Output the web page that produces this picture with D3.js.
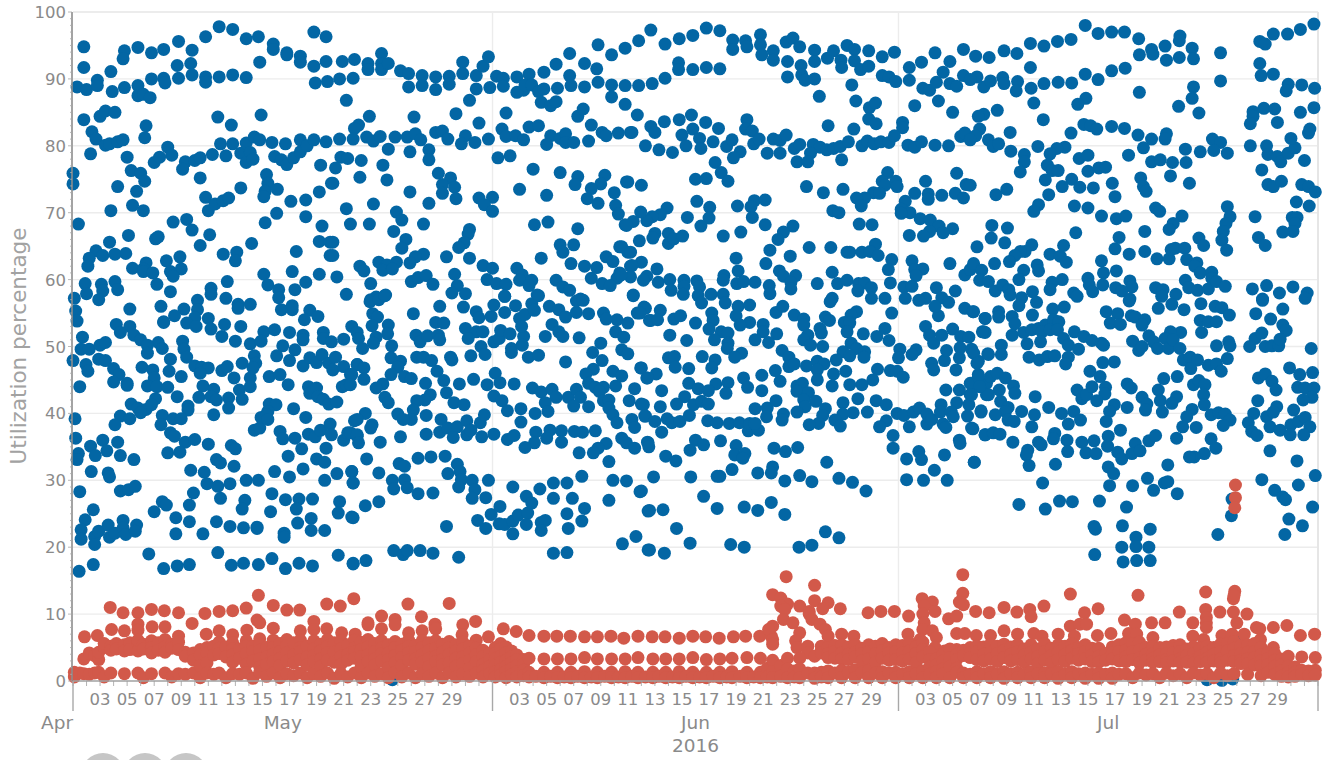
<!DOCTYPE html>
<html><head><meta charset="utf-8">
<script src="https://cdn.jsdelivr.net/npm/d3@7"></script>
<style>html,body{margin:0;padding:0;background:#fff;overflow:hidden}svg{display:block}text{font-family:"DejaVu Sans",sans-serif}</style>
</head><body><svg id="c" width="1324" height="760"></svg>
<script>
// day = days since 1 May 2016, value = utilization percentage; flat lists: day,value,day,value...
const blueMayHigh=[0.3,88.8,0.8,94.8,0.8,91.7,1,88.4,1.8,89.8,1.8,89,2.8,91.1,2.9,88.1,3.8,94.2,3.7,93,3.8,88.7,4.8,94.7,4.8,89,4.8,87.5,5.2,87.7,5.7,87.2,5.8,90,5.8,93.9,6.7,94.4,6.7,90.1,6.8,89.4,7.8,95.6,7.7,92,7.8,90.1,8.8,94.3,8.7,92.3,8.8,90.6,9.8,96.3,9.8,90.3,9.8,89.5,10.8,97.8,10.8,90.3,11.8,97.4,11.8,90.6,12.8,96,12.8,90.2,13.7,96.3,13.8,92.5,14.8,95.2,14.8,94.4,15.8,93.9,15.8,93.6,16.8,93.4,16.8,92.5,17.8,97,17.8,91.9,17.9,89.4,18.7,96.3,18.7,92.6,18.8,89.6,
0.8,83.9,1.4,82.1,1.7,81,1.3,78.8,2,84.4,2.4,85.2,3.1,85,2.4,80.1,2.7,80.3,3.3,80.6,3.7,80.9,4,78.3,4.3,76.3,5,75.9,5.3,74.7,4.7,73.2,3.3,73.9,4.4,71.1,5.2,70.3,2.8,70.3,5.4,83,5.3,81.2,7,79.8,7.3,78.6,6,77.5,6.4,78.3,8.3,77.6,8.1,76.5,9,77.8,9.4,78.2,9.4,75.2,10.3,78.7,11.3,78.5,10.9,80.3,10.7,84.3,11.7,83.1,11.8,80.3,12.4,78.9,12.8,80.4,13.1,79,12.8,77.5,13.3,78,13.4,81.3,13.8,80.9,13.9,84.6,14.7,80.5,14.9,78.4,15.4,77.9,15.8,77.2,15.7,80.3,16.3,78.2,16.8,80.9,16.8,79.1,17.3,80,17.8,80.9,18.7,80.6,18.3,77.1,
0,75.9,0,74.3,0.4,68.3,9.8,72.3,10,70.3,10.5,71.3,11.1,71.8,11.5,72.2,12.4,73.7,14.3,75.7,14.4,74.4,14.2,73.2,14.1,72.4,15.1,73.5,16.1,71.7,17.2,71.9,18.2,73.1,19.1,74.4,15.05,69.9,14.2,68.5,17.2,69.4,18.4,68,8.4,69,7.4,68.6,8.8,67.4,10.1,66.7,9.4,65.1,13.2,65.4,18.2,65.7,19,65.6,6.1,66.1,6.3,66.4,4.1,66.6,2.7,65.6,
1.7,64.3,1.2,63.2,1.1,62,2.2,63.6,3.1,63.8,3.9,63.9,4.4,61.7,5.4,62.5,5.2,61.6,5.2,61.2,5.9,61,6.9,62.8,7.9,63.4,8,61.6,7.2,61.2,7.4,60.5,11.1,63.8,12.1,64.1,12,62.8,16.5,64.2,16.2,61.2,14.1,60.8,18.2,60.8,19,63.6,11.4,59.7,14.4,59.2,17.2,59.6,0.9,59.4,1,57.9,2.1,59.3,2.2,58.3,1.9,57,3.1,59.7,3.3,58.5,6.2,59.3,7.2,58.2,10.2,58.7,10.2,57.8,15.2,58.5,15.2,57.3,16.4,58.5,0.1,57.2,0.2,55.3,0.3,53.8,4.2,55.6,6.5,56,8.2,55.6,9.2,56.9,9.2,55.5,11.3,57.2,12.2,56.3,12.2,55.7,13.1,56.3,15.4,55.5,16.2,55.5,16.2,56.1,17.5,55.4,17.1,54,18.1,54.5,7.5,54.6,6.7,53.7,9,54.3,10,54.2];
const blueMayLow=[3.2,53.3,4.2,53,0.7,51.4,3.5,52.1,4.5,51.7,5,51,6.3,50.6,5.5,50.2,8.1,50.8,10.2,52.6,11,51.5,12,50.8,13.1,50.4,14.1,52.2,13.9,50.8,14.9,52.5,16,52.1,17,51.7,17,51,18.5,52.1,18.5,51.2,19.1,50.7,20,51.1,15.5,50.1,12.4,53,11.2,53.3,6.7,53.6,8.4,53.5,9.1,53,
0.6,49.6,1.2,49.6,2,50.2,2.4,50.6,6.6,49.7,5.5,49,8.2,49.6,8.4,48.4,7.2,48.1,0,47.9,1.9,48.1,2.4,47.9,0.96,47.3,1.1,46.3,3,46.7,3.4,45.8,3,44.7,4,44.5,4,44.2,0.5,44,5.1,46.9,5.9,46.5,6,45.3,5.5,44.1,6.2,44,7,43.9,7.1,46.3,8,45.5,7.7,42.5,6.1,42.2,9,47.1,9.5,46.9,10,46.8,9.4,46,9.6,44.1,9.3,42.4,8.5,41.1,8.5,40.5,10.4,43.6,10.2,42.5,10.6,42,11.5,42.3,11.5,40.8,11,46.4,11.4,47,11.9,45.3,12.5,47.5,12.3,43.5,12.5,42.1,13.1,45.3,13.1,44,13.4,48.6,13.5,47.5,13.3,46.8,14.5,45.5,15.3,45.8,15.9,44.3,15.05,48.6,16,47.9,16.4,49.5,17,47.1,17.5,48.3,18,47.6,18.4,48.8,18.9,47.5,19.4,48.4,19.2,46.5,20,47,20.5,45.8,19.9,44,20.2,44.3,21,47.3,17.4,44,17.5,43,18,43.8,18.1,42.5,18.5,42.1,18.9,41.4,19.5,41.7,14.5,41.4,15,41.3,16.3,40.7,14.4,40.3,17.2,39.4,4.3,41.4,4.8,40.8,5.4,40.6,5.8,41.3,5,40.1,
0.15,39.2,3.5,39.6,4.2,39.2,3.1,38.3,6.6,39.7,6.5,38.3,7.4,39.2,8,39.2,10.4,39.8,7.2,37.1,7.5,36.6,8.3,35.7,9,36.1,10,35.4,0.2,36.3,2.2,36,3.3,35.7,1.3,35.1,1.65,33.7,2.5,34.4,3.5,33.7,0.4,34,0.3,33.1,4.5,33.1,7,34.1,7.9,34.2,11.7,35.2,12,34.7,10.6,33.1,10.9,32.6,11.9,32.1,13.4,37.5,13.8,37.8,13.9,39.4,14.3,39.8,14.4,39.1,15.3,37.3,15.5,36.2,16.4,36.3,17.4,36.9,17.9,36.5,18.3,37.5,19,38.4,19.1,36.8,16.9,34.7,15.9,33.6,18,33.2,18.6,32.7,18.7,34.8,20,36,20.3,37.1,21,36.6,20.8,38.9,17,31.7,14.9,31.3,16,30.5,19.5,31,20.6,31.3,18.6,30,20.7,29.6,8.7,31.5,9.7,31.2,1.35,31.3,2.6,31.1,2.7,30.5,12.8,30,13.7,30,
9.9,29.5,10.7,29.1,11.6,29.5,8.9,28.1,0.5,28.3,3.5,28.4,4.1,28.6,4.6,29.1,14.7,28,10.9,27.3,12.7,27,12.5,25.7,6.6,26.8,6.9,26.3,8.6,26.3,15.7,27.1,16.7,27.2,16.5,25.7,17.7,27.2,19.7,26.8,19.6,25.1,14.6,25.3,1.5,25.6,6,25.3,7.6,24.4,8.6,23.8,10.6,23.8,11.6,23.1,12.6,22.9,13.6,23,13.6,22.8,16.6,23.6,17.6,24.3,17.6,22.5,18.6,22.5,20.6,24.5,0.9,24.1,0.6,22.6,0.6,21.2,1.6,21.6,1.6,20.4,1.9,22.4,2.6,23.3,2.7,21.5,3.1,22.1,3.7,24,3.7,22.9,3.9,21.9,4.7,23.3,4.6,22.4,7.6,22,9.6,22,15.6,22.1,15.6,21.5,
0.45,16.4,1.5,17.4,5.6,19,6.7,16.8,7.7,17.2,8.6,17.4,10.7,19.2,11.7,17.3,12.6,17.6,13.7,17.4,14.7,18.3,15.7,16.8,16.7,17.6,17.7,17.2,19.6,18.8,20.7,17.6];
const blueLateMayHigh=[19.9,92.6,20.8,92.9,21.8,92.3,21.8,91.4,22.8,93.8,22.8,92.3,22.8,91.4,23.3,92.3,24.2,91.2,24.8,90.8,25.8,90.5,26.8,90.3,27.8,90.4,27.8,89.2,28.8,92.5,28.8,90.8,29.8,90.5,30.3,91.9,30.7,93.3,31.3,90.4,31.8,90.1,31.8,88.9,32.8,90.3,33.3,88.3,32.8,88,33.7,90.7,33.4,89.1,33.9,89.1,34.8,91,34.4,88.1,34.8,88.5,35.7,92.2,36.7,93.8,36.7,90.5,36.8,89,35.8,88.6,37.8,92.3,37.8,88.8,38.8,95.1,38.7,91.5,38.8,89.5,39.8,93.6,39.8,89.1,39.8,87.3,40.8,94.6,40.8,89,40.8,86.2,19.7,90,20.7,90.1,24.8,88.8,25.8,89,26.8,88.4,29.8,88.5,30.8,88.7,20.2,86.8,29.3,86.8,34.6,86.5,35.3,86,35.7,86.6,
21.9,84.4,25.2,84.3,28.3,84.8,32,84.9,30,83.4,21.1,83.1,20.8,82.6,37.3,84.4,37.7,85.5,38.3,83.1,19.7,81,20.7,81,21.7,81.3,22.2,80.7,22.7,81.4,23.8,81.3,24.7,81.3,25.3,81.8,25.7,80.9,26.8,82,27.3,82.2,27.7,81,29,81.5,28.7,80.3,29.7,80.5,30.7,81,31.7,82.5,32,81.4,32.7,81.5,33.3,80.9,33.7,82.8,34.4,83,35.3,81.5,35,80.2,36,81.1,36.4,81.8,36.4,80.5,37,80.5,38.1,80.7,39.1,82,39.4,81.5,40.3,81.9,41.2,82,23.3,79.5,24.9,79.1,26.3,79.4,26.3,77.9,19.8,78.3,20.3,78.1,21.3,77.8,22.9,77.1,19.4,76.7,21.2,75.3,23.2,74.9,19.2,74.4,31.4,78.2,32.3,78.5,34,76.5,36,76,37.3,75.4,39.3,75.6,39,74.3,38.3,73.6,37.1,74.2,40.9,74.6,27,75.9,27.9,75.2,27.3,74.2,27.3,72.9,28.2,73.8,28.3,72.1,24.9,73.1,26.3,71.4,30,72.2,31,72.3,30.4,71.2,31,70.2,33,73.5,35,72.6,38,72.1,38.8,71.4,40,73,40.1,71.1,40.3,69.8,22.2,71.3,20.2,70.6,23.9,70.1,24.3,68.9,20.5,68.3,21.9,68.3,25.9,68.3,23.7,67.2,34.1,68.2,35.1,68.6,37.3,67.6,40.8,68.2,
19.2,65.6,19.2,63.6,24.6,66,24.3,64.7,29.3,67.5,29.2,66.8,28.9,65.5,28.5,64.8,36,65.2,37,65.2,36.2,64.1,40.4,64.9,41,64.1,27.6,63.4,29.3,63.2,34.6,63.2,39.4,63.4,39.9,62.7,25.9,63.8,25.3,63.4,24.9,62.5,23.9,62.6,22.6,62.6,23.2,62.2,22.9,61.4,23.6,61.6,21.2,62,21.5,61.3,19.5,60.4,30.3,62.1,31,61.7,28.2,60.8,32.8,61.7,33.2,60.7,36.8,62.4,37.8,62,38.7,61.8,38.3,60.2,40.4,61,40.2,60.2,41.2,62,22,59.4,25,59.7,25.5,60.3,26.1,60.6,26.6,59.3,30.6,60,31.3,59.4,32,59.3,33,59.9,33.9,59.9,33.7,59.1,35.7,59.9,36.2,58.9,36.7,58.4,39.1,59.4,39.7,59.1,28.4,59.1,28,58,29,57.9,20.2,57.8,23.1,57.7,22.4,57.4,22,57,31.9,57.5,34.3,57.7,37.5,57.1];
const blueJuneMid=[21.95,56.7,22.6,57,23.05,57.6,27.1,56,25.15,54.9,28.85,55.9,29.8,55.2,30,54.3,30.9,54.5,31.1,56.2,31.9,55.1,31.9,57.5,32.7,56.1,33,54.2,33.4,54.8,33.9,56.4,34.1,55.4,34.4,57.6,35.2,56,35.9,55.5,36.4,54.4,37.2,55.1,37.2,56.8,37.7,56.9,38.1,54.9,39.2,55,39.4,54.1,40.2,54,41.4,57.6,41.7,55,42.2,55.9,41,53.5,42.6,53.9,22.15,54.9,22.5,54.4,22.1,53.1,23.3,53.2,23.25,51.9,22.4,51.4,22.2,50.5,20.6,53,21,52.1,21.1,51.2,21.4,49.7,23.55,50.1,26.8,53.6,27.4,53.5,29,52.7,29.8,52.2,30.3,52.2,29.2,51.2,30.15,50,30.45,48.8,25.35,51.7,25.65,50.7,26.2,51.6,27,51.7,27.1,51,31.1,50.7,31.5,51.2,31.6,52.4,32.3,51.9,32.4,49.7,32.4,49.1,33.3,51.5,33.2,50.2,34.9,51.5,35.4,53.3,35.9,52.2,36.2,51.5,37.4,51.3,39,50.5,40.1,52.2,40.7,51.4,33.15,53,33.65,48.4,34.4,48.7,36.4,47.7,38.4,49.1,39.1,47.9,40.55,49.5,41,48.9,29.4,48.6,27.9,48.4,28,48,25.4,48.4,25.9,48.4,26.5,47.9,26.9,46.3,27.4,44.9,23.5,48.3,24.2,47.8,24,46.9,23.5,45.8,24.5,45.5,25,45.2,21,47.3,21.5,46.8,21.5,45.1,20.6,45.8,20.5,44.3,22.9,44.4,22.4,43.8,26.05,44.5,28.55,44.4,29.6,45.1,27.6,43.1,26.4,42.8,26,42,25.4,41.9,23.05,42.4,23.3,41.6,28.15,41.6,28.9,41.3,31.2,46,30.6,44.3,31.55,44.6,31.1,42.6,31.7,41.9,32.6,44.4,33.95,43.8,34.6,43.2,35.4,43.6,35.7,42.4,34.9,41.6,35.1,40.3,33.1,40.7,32.1,40.4,34.15,40,36.6,42.4,37.2,43.6,37.5,42.4,37,41.1,38.1,41,38.45,46.6,37.9,45.9,38.1,44.5,38.6,43.9,39.2,43.9,38.9,43.3,40.1,44.1,39.9,46.3,40.55,45.6,41.95,46.8,42.4,45.3,41.5,43.7,41.1,41.9,42,41.4,39.2,41.9,39.6,42,39.6,40.8,39.9,39.8,40.2,38.6,41.3,39.1,41.5,37.9,42.3,39.6,
26.1,39.7,25.15,40.5,25,39.1,24,39.9,24.4,39.1,21.6,40,21,39.1,22.1,38.3,22,37.8,20.5,37.1,21,36.8,21.1,35.6,22.7,35.7,24.2,36.5,26.1,36.9,27.2,39.1,27.1,37.2,27.7,37.8,28.4,38,29.1,38.9,29.1,36.8,29.4,37.5,28.1,36.4,30.1,38.6,30.4,39.8,30.2,36.5,31.1,36.9,32.1,36.1,32.6,36.7,33.1,38.7,34.2,37.2,34.1,35.6,33.4,34.9,35.25,37.5,35,36.3,36.1,37.4,36.1,35.7,37.05,37.3,37.65,37.2,38.6,37.4,39.4,35.5,38.8,34.8,38.45,34.1,37.4,34.1,39.6,32.8,40.55,36.3,40.9,35.6,41.5,34.8,42.5,35.6,21.7,33.2,25.5,33.3,26.45,33.5,27.5,33.6,28.4,32.4,28.6,31.3,24.1,32.5,24.5,32.1,22.6,31.1,20.6,31.3,27.7,31,20.7,29.6,23.6,30,23.7,28.7,24.5,30.1,24.7,28.9,28.7,30.1,28.5,29,29.5,30,29.7,28.6,30.7,30,25.5,28,26.6,28.1,29.5,27.3,30.5,27.4,22.6,26.8,21.6,26.2,20.7,24.4,32.5,29,33.5,27.6,34.5,28.7,35.5,29.6,36.5,29.6,35.5,27.3,36.9,27.3,37.6,30.6,39.9,30,40.9,29.9,41.9,28.3,39.6,27,37.8,25.8,36.5,25,37.6,23.9,36.6,22.8,42.5,25.4,31.55,26.1,30.9,24.9,29.9,24,30.5,22.8,31.5,23.5,31.9,23.4,32.5,23.9,32.9,24.8,33.6,25.1,33.9,26.6,33.5,23.4,32.5,22,34.6,23.7,34.9,24,34.6,22.5,27.6,23.1,23.7,19.5,24.4,18.9,24.7,19.5,25.65,19.5,26.6,19.1,28.5,18.5,21.65,18,20.7,17.5,35.5,19.1,36.5,19.2,40.6,20.5,41.6,21.6,42.5,19.6];
const blueJuneHigh=[41.8,95.7,42.7,97.3,43.75,95.2,44.8,96,45.8,96.5,46.8,97.6,47.8,97.2,48.75,95.8,48.75,94.4,49.7,95.7,49.8,94.8,50.8,96.6,50.8,95.1,50.9,93.6,51.75,94.2,51.75,92.8,52.7,95.5,53.2,96.1,53.7,94.8,52.8,92.6,53.8,92,54.8,94.3,54.8,92.6,55.75,93.1,56.2,94.2,56.75,92.8,56.8,91.7,57.2,95,57.75,94.4,57.75,92.7,58.2,91.4,58.8,94.2,58.8,91.9,59.8,93.3,60.7,94,61.8,91.7,62.7,92.5,63.7,93.9,64.8,92.6,64.3,91,65.8,94.4,65.8,90.5,44.75,92.4,44.75,91.4,45.8,91.4,46.8,91.7,47.8,91.5,43.75,90.1,42.8,89.3,41.8,89,52.8,90.3,53.85,90.6,54.1,89.8,54.8,90,59.8,90.5,60.3,90.3,60.8,89.6,61.8,89.8,62.8,88.6,63.3,88.3,63.8,89.5,64.8,89.3,65.3,88.9,57.55,89.1,55.15,87.4,57.85,86.7,58.85,85.7,59.3,86.4,62.2,86,63.95,86.7,65,85,41.7,84.6,43.7,83.6,44.8,83.9,45.7,84.6,46.75,83.5,47.7,82.6,42.7,82.9,43,82,41.3,82,45.8,82.5,45,81.6,46.3,81.1,49.8,83.9,49.7,82.5,50.2,82.2,55.8,83,57.7,82.5,58.8,84,59.35,83.3,61.3,83.5,61.3,82.7,
42.3,80,43.3,79.4,44.3,79,45.3,80,46.4,79.6,47.3,80.6,48.3,79.9,48.7,80.9,49.3,79.1,48.8,78.2,50.3,80.3,50.7,81,51.3,78.9,52.25,78.9,51.75,81,52.25,80.8,52.7,81.6,53.3,79.6,53.7,80.2,54.7,80.2,55.2,79.8,54.5,78.9,55.7,79.4,56.2,79.6,56.7,79.9,57.3,80.6,58.3,80,58.7,80.7,59.2,80.3,59.7,80.6,60.3,80.5,60.7,81.5,61.7,80.1,62.2,79.8,62.7,80.6,63.7,80.1,64.7,80,65.6,81.4,65.9,81.9,53.5,77.6,54.3,77.6,56.8,77.9,47.45,77.5,47.9,76,48.4,74.7,41,74.6,42,74.1,46,75,46.8,75.1,54.2,73.9,55.45,73,56.9,73.5,60.2,76,59.8,74.7,60,74.1,60.8,74.7,60.9,73.9,59.15,73,58.5,72.2,57.9,72.2,58.25,71,59.6,72.9,63,74.7,62.2,72.9,63.2,72.8,63.2,72,64.2,72.6,65.2,72.9,65.8,72.2,65.3,75.9,66,74.2,61.5,71.7,61.2,70.5,61.85,70,61.2,69.9,46.1,71.7,47.05,70.8,49.1,71,50.35,71.8,51.15,71.9,50.1,70.9,50.2,69.3,51.15,68.2,47,69.2,46.4,68,45.4,69.3,43.9,70.7,43.4,69.7,42.8,69.4,42.4,68.8,41.95,70.1,41.4,68.7,40.9,68.1,56.15,70.3,56.6,70,58.1,68.3,59.05,68.2,62.6,69.1,63.35,68.9,64,68,65,67.6,64.3,67,63.3,67.2,62.85,66.5,61.8,66.6,53.2,68,52.5,67.1,52.1,66,48.05,66.5,49.35,67.1,43,66.9,42.85,66.2,41.85,65.8,44,66.9,44,65.4,44.4,66.1,45.05,66.5,59.3,65.3,
40.55,64.9,41.2,64.1,51.5,64.4,54.4,64.8,56,64.8,57.2,64.1,57.4,64.1,58.3,64.1,58.9,64.2,59.5,63.6,53,63.5,49,63.2,51.2,62.4,60.5,63,62,62.8,60.25,61.5,64.8,62.4,62.2,61.5,62.8,61.6,62.3,60.6,42,62.6,41.3,62.1,41.2,60.4,40.5,60.7,43.15,61.6,42.4,60.5,43.25,59.6,44.1,60,42.15,59.9,49.15,61.3,48.1,60.6,48.05,59.9,52.2,61.3,52.5,60.5,53.4,60.6,53.05,59.6,53.05,58.6,56.1,61.1,65.9,60.7,66.3,61.5,49.05,59.4,49.55,59.7,50.4,59.6,51.45,59.1,51.5,57.9,55,59.4,56.5,59.4,57.2,59.9,58.05,59.4,58.5,59.5,59,58.8,58,58.3,60.4,59.5,61.4,58.9,62,59,63.8,58.8,65.2,58.3,41.4,57.7,44.2,58.4,45.15,59.9,45.15,59,46.1,59.8,46.3,58.9,45.1,57.8,46.2,57.6,47.15,57.8,48.05,57.8,59,57.2,60,57.2,56.1,57.2,61.5,57.2,63,57.2,64.2,57.3];
const blueJuneLow=[42.3,55.7,41.9,55,43.4,55.4,42.7,53.9,43.2,54,44.4,54.1,44.9,54.6,46,53.5,44.1,51.7,45.35,50.9,47.2,55,47.3,53.9,47,52.6,47.9,52.2,48.4,52,47.4,51,48.4,50.5,48.35,49.7,49.15,56,49,54.6,50,56.2,50,53.6,49.3,53.2,46.45,56.5,48.2,56.5,51.95,55.1,52.45,56,51,53.3,51,52.2,52,51.9,50.4,51,51.4,50.6,53.3,54.7,54,54.1,54,53.2,55.2,52.7,55.3,52,54.3,51.7,54,51,54.5,50.2,55.4,50,55.6,54.4,55.9,53.9,55.95,56.7,57.9,55.2,57.5,54.7,57,53.6,57.4,53.5,57.2,52.2,58.4,51.9,60.5,55,59.4,51.5,60,52.7,60.3,50.9,57.5,50.5,57.9,49.7,56.9,49.2,57.4,48.6,58.5,49.2,58.45,48.4,56.4,48,52.4,49.4,52.9,48.4,52.9,47,53.3,47.4,54.2,47.1,55,47.8,55.5,47.4,55,46.5,55,45,56.2,45.9,57.1,46.3,59.45,46.6,59.1,45,58.3,44.3,57.4,44.3,56.1,44.1,52.25,44.8,51.9,46.4,50.9,45.7,50.9,43.4,63,53,63.3,51.7,63.6,50.5,64.2,51.7,65,52.6,65.6,51.5,66.2,51.4,67.3,52.2,67.4,54.2,65.9,55.7,66.5,55.2,63.95,54.6,63.7,56,62.5,56.9,64.7,56.6,
61.1,49.6,62.3,49.5,61,48.3,62,48.8,60.4,46.4,60.9,46.3,61.35,45.4,63.45,47.5,63.6,46.5,64.4,47.9,64.55,49.4,65.5,48.3,65.55,49.8,66.4,49.6,66.9,47.8,65.25,46.5,67.6,48.9,66.9,45.8,66.5,44.3,64.5,43.5,65.5,43.5,66.3,42.8,66.2,41.3,67.5,42.8,67.5,44.5,44,48.3,44.45,48.5,44.5,46.9,46.5,48.5,47.45,48,47.2,46.8,49.4,49,48.9,48.4,45.5,46.7,42,46.8,43.1,45.9,42.45,45.3,45.5,44.5,47.5,44.4,48.4,44.6,46.2,43.7,46.95,43.4,48.25,43,49.55,45.3,49.85,43.9,43.5,43.4,45.2,42.5,44.6,41.4,45.85,41.3,46.45,41.8,46.95,41.4,43.4,41,42.15,41.3,42.25,39.6,43,38.8,43.9,39.2,44.25,38.6,44.85,38.8,45.55,39.7,43.5,37.2,46.9,38.9,47.6,38.6,48.5,38.5,49.25,38.6,49.9,37.4,50,38.5,50.65,37.5,50.4,38.5,50.4,40.7,51.3,40.8,51.25,39.5,51.95,41.9,52.5,39.9,52.4,39,53.5,44.1,53.9,44.5,53.5,43.3,54.35,43.1,54,42,54.9,41.8,54.1,41,53.5,40.2,55.6,40.7,55.4,39.7,55.1,38.5,54.4,38.3,56.9,41.6,58,42.2,57.65,40.1,56.9,39.9,56.3,39,56.7,38.1,58.7,40.2,59.35,41.9,60.1,41.3,60.1,38.9,59.6,38,60.9,40,61.4,39.7,62.1,40.2,62.55,40.8,63.1,39.9,63.1,38.4,63.45,39.1,61.8,38,64.15,41.3,64.1,40.2,65.3,41.6,64.9,40.2,65.05,39.5,64.3,38.4,64.5,37.9,66.1,39.6,67.1,40.4,66.4,37.8,67.4,36.8,60.6,36.7,65.5,36,65.55,35.5,
46,36,46.6,35.3,45.6,34.5,47.85,35.9,42.45,35.7,42.55,35,43.8,33.6,44.55,32.9,49,35.2,48.9,33.8,49.65,34,49.5,33.3,51.8,34.8,52.65,34.3,53.55,34.9,60.6,34.8,61.6,33.2,62.5,34.3,62.7,33.1,64.4,33.8,66.6,32.7,55.7,32.7,51.7,32,51.6,31.1,50.6,31.1,48.7,31.6,47.8,30.6,47.6,30.6,45.65,30.5,42.9,30.5,63.65,31.5,53.7,30.7,52.6,29.9,54.6,29.8,56.6,30.3,57.6,29.7,58.6,28.4,61.6,30.1,62.85,30,64.6,30,42,28.4,46.6,27.6,42.6,25.5,43.6,25.6,47.6,25.8,49.6,26,50.6,25.5,51.6,26.7,52.6,24.9,44.6,22.8,45.6,20.6,48.6,20.4,49.6,20,42.6,19.6,43.7,19.1,55.6,22.3,56.6,21.4,54.6,20.3,53.65,20];
const blueJulyHigh=[66.7,93.4,67.7,93.2,68.8,94.2,69.75,93.8,70.75,95.3,71.75,94.9,72.75,95.6,73.75,95.9,74.8,98,75.75,96.8,76.75,97,77.7,97,78.75,96,79.7,94.4,79.8,93.7,80.7,94.9,81.8,96.4,81.75,95.7,82.7,94.6,78.8,93.6,80.8,92.8,81.75,93.2,82.8,93,84.8,93.9,87.7,95.6,88.1,95.2,88.7,96.7,89.75,96.7,90.7,97.4,91.7,98.2,87.7,92.3,70.75,91.7,76.75,91.2,77.75,91.6,66.8,90.3,66.3,89.9,67.3,88.8,67.8,89.7,68.7,90.2,68.8,89.3,69.8,89.6,69.7,88.2,70.8,88.6,71.75,89.3,72.8,89.5,73.8,89.4,74.8,90.7,75.75,89.9,84.8,89.7,87.8,90.5,88.7,90.7,78.8,88,82.8,88.8,82.7,87.1,81.7,85.9,83.2,84.9,89.8,89.2,89.65,88.2,90.8,89.1,91.75,88.6,71,86.4,74.85,87.1,74.25,86.2,68.3,85.3,67.3,84.7,66.9,84.4,71.7,83.9,87.2,85.1,88,85.6,88.8,85.5,87.2,84.4,87,83.3,89,83.5,90.7,85,91.7,85.7,
74.7,83.2,75.2,83,75.65,82.5,76.75,82.9,77.7,82.6,78.7,81.6,79.7,81,80.8,81.8,80.7,81,69.25,82,73.75,81.9,67,82.5,66.7,81.5,66.3,80.9,67.65,80.9,68,79.9,68.4,80.3,69.3,79.2,71.3,79.9,73.3,79.8,72.7,79.6,72.2,78.8,79.1,79.7,78,78.6,84.2,81,84.8,80.5,84.3,79.3,85.3,78.9,83.3,79.1,82.2,79.5,87,80,88.2,80,88.3,78.7,89,78.4,89.25,77.6,89.8,78.9,90.3,79.7,90,81.1,91.3,81.9,91.4,82.5,91,77.8,70.3,78.7,70.3,77.6,70,76.1,74.35,78.1,75,78.6,72,77.1,72.35,76.3,72.8,76.3,75,76.2,75.8,76.7,76.3,76.8,79.7,77.6,80.35,77.9,81.25,77.5,82.25,77.5,81.1,75.5,87.85,76.4,71.85,74.9,73.8,75,73.1,73.9,74.4,73.8,75.4,73.7,76.8,74.4,78.9,75.2,79.1,73.9,79.3,73.2,82.5,74.4,69,73.5,68.2,72.7,66.3,74.1,72.1,72.7,77,72.4,88.3,74.2,88.7,73.9,89.3,74.7,90.8,74.2,91.3,73.9,91.8,73.1,
71.35,71.2,71,70.2,74,71,75,70.7,76,69.5,77.1,69.1,77.8,69.5,80,70.7,80.3,70.2,81.95,69.5,81.3,68.4,81,67.5,85.3,70.9,85.5,69.4,85.2,68.4,85,67.2,87.35,69.4,90.4,71.6,91.35,71,90.1,69.3,90.45,69.3,90.3,68.4,90.15,67.2,89.4,67.1,79.2,67.2,74.1,67,67.9,68.1,69.05,67.7,67.85,66.2,68.85,65.5,66.8,64.9,70.85,65.2,70.35,64.2,70,64.2,69.6,63.6,69.2,62.7,68.1,62.4,66.55,62.4,72.2,63.8,73.2,65.1,72.95,63.5,73.4,62.6,77.3,66.3,77,64.6,78.05,63.8,79.2,64.2,80.1,63.1,81,63.1,81.15,64.5,81.45,64.7,82.15,64.7,82.3,63,83.05,62.5,83.2,66.2,83.55,65.1,84.9,65.9,85.25,64.4,87.6,66.3,88.1,65.1,76,62.8,67.15,61.4,70.25,61.4,71.25,62.2,71.35,61.3,69.9,60,76.15,61,77.1,61.3,82.9,62,83.3,61,84.15,61.1,84.15,60.2,67,59.9,67.65,59.7,73.1,60,72.35,59.6,72.2,58.5,75,60.2,75.1,59.2,75.35,58.2,76.1,59.2,78.1,59.8,78.25,58.9,77.05,58.8,77.5,58.3,73.95,58,74.2,57.5,68.15,58.3,68.7,59.2,69.15,58.5,69.25,57.7,70.1,57.3,70.9,58.2,78.1,57.1,80,58.8,80.55,58.5,80.45,57.5,81.5,57.8,82.2,59.9,82.45,58.8,83.1,58.4,83.9,58.6,84.5,59.7,85.15,59,87.15,58.6,88.2,59.1,89.15,58,90.15,58.9,91.2,58,91.05,57.2,87.9,57.1];
const blueJulyLow=[78.05,56.8,80.2,55.7,81.2,56.3,82.1,55.5,83.35,56.4,84.4,56,84.9,55.8,85.45,54.7,87.9,56.9,87.4,54.9,89.4,55.6,88.5,54.1,89.4,53.2,89.65,52.4,66.55,55.2,67.4,54.2,68.4,55.2,68.4,54.4,69.4,54.5,69.6,53.4,69.9,56.1,70.9,54.7,71.2,56.6,72.4,55.6,73.25,55.9,76.35,55.2,77.2,54.9,76.65,53.5,77.4,53.3,78.2,54.6,78.5,54.4,79.2,54,79,53.2,83.3,53.9,83.9,53.7,84.5,53.7,83.4,52.1,81.85,52.1,81.1,52.2,80.7,51.2,79.5,51.6,79.85,50.7,80.15,49.7,80.95,49.7,81.3,51,81.8,49.7,78.3,50.8,78.75,49.4,79,50,67.4,52.1,67.2,52.2,69.4,51.7,70.25,52.1,70.85,52.5,71.35,52.7,71.85,53.2,72.45,54,72.85,53.7,71.6,52.2,72.2,52.5,72.75,52.5,71.5,50.7,70.5,50.4,74,52.2,73.2,51.2,73.55,50.2,74.7,51.5,74.3,49.6,75.3,50.9,76,50.5,76.15,50.2,85.4,50.7,84.5,50.1,85.5,50.1,87.35,51.2,87.85,52,86.95,50,88.1,50,88.6,50.1,89.1,50.1,89.2,51.1,91.5,49.7,
66.55,49,66.8,47.5,67.65,48.8,68.6,50.2,68.6,48.8,70.65,48.4,71.4,48,72,48.5,72.55,48.6,73.55,48.4,73.35,47.4,76.1,47.6,76.95,47.7,82.05,48,82.55,48.4,83.1,48,82.6,46.7,83.9,47.2,84.5,47.4,84.85,46.3,85.3,48.2,89.9,46.8,90.65,45.8,91.6,46.1,87.6,45.3,88.1,45.9,88.6,44.8,88.9,43.5,90.5,43.9,91.05,43.8,91.7,43.8,91.55,42.4,90.9,42,75.15,46.3,75.9,45.5,80.6,45.2,81.6,45.5,82.8,44.3,83.2,44.9,83.65,44.3,83.55,42.8,83.6,41.3,77.9,44.4,78.2,43.8,80.2,43.5,80.35,41.9,81.55,42.5,81.2,41.5,79,42.4,79.35,41.4,79.25,40.5,80.5,40.2,76.3,43.9,76.25,42.9,75.65,41.9,74.2,43.5,74.55,42.2,74.9,42.8,75.3,44,71.1,42.5,72.1,40.9,66.3,44.5,66.9,45.5,67.8,45.5,68.3,46,68.9,45.3,69.5,44.1,69.6,43,68.45,43.5,67.65,42.8,67,44,66.4,42.8,68.55,41.8,69.1,40.9,68.9,40.3,67.1,40.2,68.15,39.8,70.1,40.3,69.1,39,69.55,38.8,71.05,39.8,70.85,38,66.5,37.7,67.4,36.8,68,37.1,68.5,36.9,
73.05,40,73.95,40.3,74.45,39,73.55,38.4,76.95,41.3,76.6,40.3,76.35,38.8,77.9,40.9,77.4,37.5,82.7,40.6,82.3,39.5,82,38,83,37.9,84.1,39.8,84.65,40.1,85.15,39.9,85.5,39,85,38.2,87.55,41.9,88.95,41,90.2,40.5,87.25,40,86.85,38.6,87.1,37.3,87.5,36.7,88.2,39.5,88.7,40.2,88.45,38,89.2,37.5,90,38.3,89.95,36.8,90.55,38.8,91.05,39.4,91.4,38,90.95,36.8,69.45,35.7,71.35,35.7,71.55,35.3,72.55,37,72.45,36.2,70.55,34.5,70.45,33.8,73.45,36,73.5,34.3,74.55,35.7,75.45,35.9,74.85,34.1,75.6,34,76.5,36.6,76.45,35.1,77.2,34.2,77.5,33.2,78.5,35.5,78.25,34,78.85,34.4,79.5,35.9,80,36.7,81.55,36.3,84.1,36.2,84.45,34.8,83.6,34,82.85,33.5,82.5,33.5,88.45,34.4,66.6,32.7,70.65,32.2,72.6,32.4,76.5,32,76.9,31,80.9,32.3,90.45,32.9,91.8,30.7,71.65,29.6,76.6,29.2,78.3,29.2,79.4,30.3,80.65,29.6,80.9,29.8,79.85,28.5,81.6,28,87.85,30.1,88.8,28.5,89.4,27.5,89.6,27.1,90.55,29.3,91.6,26,85.65,27.2,85.6,24.7,69.9,26.4,71.85,25.7,72.9,26.9,73.85,26.8,75.85,26.9,77.85,26,89.85,24.2,90.85,23.2,89.55,21.9,84.6,21.9,75.45,23.1,75.55,22.7,77.55,23.2,79.6,22.7,78.55,21.5,78.55,20.1,77.5,20,79.5,20,75.5,18.9,77.6,17.8,78.6,18,79.6,18];
const blueNearZero=[23.6,0.2,83.8,0.2,84.9,0.1,85.7,0.3,86,6.2];
// red series: outliers read one at a time
const redPeaks=[2.75,11,3.7,10.2,4.8,10.2,5.8,10.7,6.75,10.5,7.8,10.2,8.8,8.6,9.75,10.1,10.8,10.4,11.8,10.5,12.8,10.9,13.7,12.8,13.6,9.1,13.8,8.7,14.8,11.3,15.8,10.6,16.75,10.6,17.8,8.9,18.75,11.5,19.75,11.2,20.75,12.3,21.8,8.7,21.8,8.4,22.8,9.7,23.8,9.2,23.8,8.4,24.75,11.5,25.75,9.6,26.75,8.5,26.75,8,27.8,11.6,28.8,8.4,29.75,8.9,
0.85,6.6,1.8,6.8,2.85,7.7,3.8,7.5,4.8,8.5,4.8,7.6,5.85,8.1,6.8,8.1,7.8,6.7,9.85,7,10.8,7.5,11.8,6.9,12.85,7.6,14.8,7.9,16.8,7.5,17.8,7.7,18.75,7.8,19.85,7.2,20.85,7,22.8,7.8,24.8,7.2,25.8,7.5,26.8,7.8,28.75,6.9,29.8,6.1,30.7,6.6,31.8,7.8,32.75,7.4,33.7,6.8,34.8,6.7,35.75,6.7,36.75,6.7,37.8,6.6,38.75,6.6,39.75,6.7,40.7,6.4,41.75,6.7,42.8,6.6,43.75,6.6,44.8,6.4,45.8,6.7,46.75,6.6,47.75,6.4,48.8,6.6,49.7,6.7,50.75,6.7,51.6,6.7,
52.7,15.6,51.7,12.9,52.3,12.4,52.8,11.5,52.3,11.2,53.7,11.2,54.4,10.4,54.8,14.3,54.8,12,55.8,11.7,55.4,10.8,56.7,10.8,58.75,10.2,59.7,10.4,60.7,10.4,61.75,9.7,62.75,12.3,63.5,11.8,62.9,11.2,63.7,10.4,65.75,15.9,65.75,13.1,65.5,11.8,65.8,11.4,64.7,9.3,65.3,9.7,66.7,10.4,67.7,10.2,68.8,11,69.75,10.3,70.7,10.7,71.75,11.2,70.8,9.6,73.7,13,74.75,10.2,75.75,10.8,78.7,12.8,81.75,10.3,83.7,13.3,83.7,10.7,84.75,10.3,85.75,10.3,85.85,13.4,85.75,12.3,85.8,12.8,86.75,10,77.7,9.1,78.5,8.5,79.7,8.7,80.7,8.7,82.75,8.7,83.75,9.5,83.75,8.7,83.75,8,86,8.7,88.7,8,89.7,8.3,90.7,6.8,91.75,7,87.45,8,87.7,7.8,
51.7,8.2,51.4,7.7,51.7,6.2,51.7,5.5,52.6,10.7,52.5,9.2,53.2,8.7,54.4,10,54.6,9.2,55.2,8.5,55.6,7.7,55.8,6.7,56.8,7,57.7,6.7,53.7,7.2,53.4,6,53.5,5,54.3,5.2,55.3,4.7,54.3,4.2,61.7,7,65.3,7.1,65.9,7.1,66.75,6.8,67.8,6.8,68.8,7.5,69.8,7,71,7.1,71.6,6.7,72.8,7,73.7,8.2,74.4,8.5,74.9,8.5,74,6.7,75.7,6.8,76.7,7.1,78,7.1,78.6,7,79.8,6.5,82.75,6.7,83.55,6.2,84.9,6.8,85.65,7,86.55,7,87.75,6.2,88.7,5,62.8,10,62.9,8.7,62.8,7.7,63.5,7.5,63.8,6.5,62.6,6.2,63.7,5,65.3,4.7,64.4,4.5,63.8,3.7,85.9,29.3,85.9,27.4,85.85,25.9];
// red series: the crowded band, one row per part of a day: [day, values...]
const redBandMay=[[0.1,1.3,0.6],[0.5,1.2],[0.8,1.1,3.3],[1.2,4.2,1],[1.6,3.8,1.2],[1.9,3.2,4.3,1.3],[2.3,5,5.6,0.6],[2.8,5.2,4.6,1.2],[3.2,5.6,4.8],[3.8,5,5.4,1.1,4.5],[4.2,5.7,4.7],[4.8,5.6,4.5,1.2,6.1],[5.2,5.5,4.8,0.5],[5.8,6,5,4.2,1.1],[6.3,5.7,4.6],[6.8,6.2,5.1,4.3,1.2],[7.3,5.5,4.9,0.6],[7.8,5.8,4.7,1.1],[8.3,4.3,3.7,1],[8.9,4.2,3.1,1.2],[9.4,4.7,3.9,2.3,0.5],[9.9,5,4.2,2.7,1.2],[10.4,5.2,3.9,1],[10.8,5.8,4.9,4.1,1.2],[11.3,5.1,3.6,0.5],[11.8,5.7,4.8,3.9,2.8,1.1],[12.3,4.8,3.4,1],[12.8,6,5.2,4.1,2.5,1.2],[13.3,5.2,4.4,3,0.4],[13.8,6.3,5.5,4.6,3.3,2.1,1.3],[14.3,5,3.6,2.5,0.7],[14.8,6.1,5,4,2.9,1.2],[15.3,5.6,4.4,3.4,2.3,0.5],[15.8,6.2,5.3,4.2,3,1.1],[16.3,5.7,3.9,2.7,0.8],[16.8,6.1,5,4.4,3.2,1.2],[17.3,5.2,3.6,2.4,0.5],[17.8,6,4.8,3.8,2.9,1.1],[18.3,5.5,4.5,3.3,2.2,0.7],[18.8,6.2,5.2,4.2,3.1,1.2],[19.3,5.7,4.3,2.8,0.4],[19.8,6,4.8,3.7,2.5,1.1],[20.3,5.4,4,3.1,0.6],[20.8,6.1,5,4.4,3.4,1.2],[21.3,5.8,4.7,3.6,2.2,0.5],[21.8,6.2,5.1,3.9,2.9,1.2],[22.3,5.6,4.4,3.3,2.4,0.7],[22.8,6,4.9,4.1,3,1.1],[23.3,5.4,4.2,3.2,2,0.5],[23.8,5.9,5,3.8,2.7,1.3],[24.3,5.5,4.6,3.5,2.3,0.6],[24.8,6.1,5.2,4.2,3.1,1.2],[25.3,5.3,4.4,3.3,2.5,0.5],[25.8,6,5,3.9,2.8,1.1],[26.3,5.7,4.6,3.4,2.1,0.7],[26.8,6,4.9,3.7,2.9,1.2],[27.3,5.5,4.3,3.2,2.4,0.5],[27.8,5.9,5,4,2.7,1.2],[28.3,5.4,4.5,3.4,2.2,0.6],[28.8,5.8,4.8,3.6,2.6,1.1],[29.3,5.2,4.2,3.1,1.9,0.7],[29.8,4.9,3.9,2.9,1.2],[30.3,4.6,3.6,2.5,1.6,0.6],[30.8,4.2,3.2,2.2,1.1]];
const redBandJune=[[31.2,5,4.1,3.3,2.4,1.4,0.6],[31.6,5.6,4.8,3.7,2.8,1.7,0.9],[32,5.1,4.2,3.1,2.2,1.4,0.5],[32.4,4.5,3.6,2.7,1.8,0.9],[32.8,3.9,3.2,2.3,1.4,0.6],[33.3,3.2,2.5,1.6,0.8],[33.7,3.4,1.3,0.6],[34.2,0.7],[34.8,3.3,1.3,0.5],[35.3,0.7],[35.8,3.3,1.3,0.5],[36.3,0.6],[36.8,3.3,1.3,0.5],[37.3,0.7],[37.8,3.5,1.4,0.5],[38.3,0.6],[38.75,3.3,1.3,0.5],[39.3,0.7],[39.8,3.3,1.3,0.5],[40.3,0.6],[40.8,3.3,1.4,0.5],[41.3,0.7],[41.75,3.5,1.3,0.5],[42.3,0.6],[42.85,3.3,1.3,0.5],[43.3,0.7],[43.8,3.3,1.3,0.5],[44.3,0.6],[44.8,3.3,1.4,0.5],[45.3,0.7],[45.8,3.5,1.3,0.5],[46.3,0.6],[46.8,3.2,1.3,0.5],[47.3,0.7],[47.8,3.3,1.3,0.5],[48.3,0.6],[48.7,3.4,1.4,0.5],[49.3,0.7],[49.8,3.5,1.3,0.5],[50.3,0.6],[50.8,3.4,1.3,0.5],[51.3,1.9,0.6],[51.7,3.1,1.4,0.5],[52.3,2.3,0.7],[52.8,3.4,1.8,0.5],[53.3,1.5,0.6],[53.7,3.4,1.8,0.5],[54.3,1.2],[54.8,3.7,1.2,0.4],[55.3,5.2,4.2,1.3,0.6],[55.8,5,4.1,3.5,1.5,0.5],[56.3,5.3,4.4,3.4,1.2],[56.8,5.4,4.2,3.3,1.6,0.5],[57.3,5.1,4,3.2,1.3],[57.8,5.4,4.3,3.6,1.7,0.5],[58.3,4.9,4.1,3,1.3],[58.8,5.4,4.4,3.3,1.6,0.5],[59.3,5.2,4.1,2.8,1.2],[59.8,5.6,4.5,3.4,1.4,0.5],[60.3,5,4.2,3.1,1.2],[60.8,5.4,4.4,3.2,1.3,0.5]];
const redBandJuly=[[61.3,5.3,4.2,3,1.1],[61.8,5.7,4.5,3.3,1.4,0.5],[62.3,5.1,4.1,2.7,1.1],[62.8,5.8,4.7,3.6,1.5,0.5],[63.3,4.4,3.2,2.1,1],[63.8,3.3,2.4,1.4,0.5],[64.3,4,3,1.8,1.1],[64.8,4.8,3.5,2.2,0.5],[65.3,4,3.2,1.9,1.3],[65.8,4.6,3.8,1.2,0.5],[66.3,5,4.2,3.5,1],[66.8,5.2,4.4,3.2,1.4,0.5],[67.3,5.1,4,3,1.1],[67.8,5.5,4.3,3.3,1.4,0.5],[68.3,5.2,4.1,2.9,1],[68.8,5.5,4.6,3.5,1.4,0.4],[69.3,5.1,4,3,1.1],[69.8,5.4,4.4,3.2,1.3,0.5],[70.3,4.8,3.9,2.8,1],[70.8,5.4,4.3,3.3,1.4,0.5],[71.3,4.8,3.7,2.6,1.1],[71.8,5.6,4.4,3.1,1.2,0.5],[72.3,4.9,3.8,2.7,1.1],[72.8,5.4,4.3,3.2,1.4,0.4],[73.3,5.2,4,2.9,1],[73.8,5.6,4.6,3.4,1.4,0.5],[74.3,5,4.1,3.1,1.1],[74.8,5.4,4.4,3.3,1.2,0.4],[75.3,4.9,3.9,2.9,1],[75.8,4.9,3.7,2.8,1.2,0.4],[76.3,4.1,3.1,1],[76.8,5.1,4.2,3.3,1.2,0.4],[77.3,5.4,4.4,3,1],[77.8,5.7,4.6,3.6,2.9,1.1],[78.3,5.6,4.4,3.2,0.5],[78.8,5.8,4.6,3.4,2.7,1.2],[79.3,5,4,3.1,0.9],[79.8,5.2,4.1,3.4,2.8,1.1],[80.3,5,3.9,2.9,0.5],[80.8,5.1,4.1,3.2,2.7,1.2],[81.3,5.3,4.2,3,0.8],[81.8,5.4,4.4,3.3,2.8,1.1],[82.3,4.8,3.8,2.8,0.5],[82.8,5.1,4.1,3.1,2.7,1.2],[83.3,4.9,3.7,2.9,0.9],[83.8,5.2,4.3,3.4,2.8,1.1],[84.3,5,4,3,0.5],[84.8,5.5,4.4,3.3,2.7,1.2],[85.3,5.6,4.5,3.1,0.8],[85.8,5.9,4.9,3.8,2.9,1.1],[86.3,5.3,4.1,3.1,2.6],[86.8,5.4,4.3,3.3,2.6,1],[87.3,5.6,4.4,3.5,2.4],[87.8,5,3.9,3,2.3,0.8],[88.3,4.2,3.3,2.4,1.3],[88.8,4.1,3.1,2.2,1],[89.3,3.3,2.4,1.5,0.7],[89.8,3.7,2.2,1.3,0.6],[90.3,2.1,1.3,0.7],[90.8,3.6,1.6,1],[91.3,1.5,0.8],[91.8,3.5,1.6,0.9]];
// tick labels
const yTickLabels=[0,10,20,30,40,50,60,70,80,90,100];
const monthNames=["May","Jun","Jul"];
const monthStarts=[0,31,61,92];
const dayLabels=["03","05","07","09","11","13","15","17","19","21","23","25","27","29"];
const yearLabel="2016", prevMonth="Apr", yTitle="Utilization percentage";

const pairs=l=>d3.range(0,l.length,2).map(i=>[l[i],l[i+1]]);
const rows=r=>r.flatMap(([d,...vs])=>vs.map(v=>[d,v]));
const bluePts=[blueMayHigh,blueMayLow,blueLateMayHigh,blueJuneMid,blueJuneHigh,blueJuneLow,blueJulyHigh,blueJulyLow,blueNearZero].flatMap(pairs);
const redPts=[...pairs(redPeaks),...rows(redBandMay),...rows(redBandJune),...rows(redBandJuly)];

const svg=d3.select("#c");
const x=d3.scaleLinear().domain([0,92]).range([73,1318]);
const y=d3.scaleLinear().domain([0,100]).range([681,12]);
const axisCol="#8c8c8c", gridCol="#ececec", txt="#8a8a8a";

// grid
svg.append("g").selectAll("line").data(yTickLabels.slice(1)).join("line")
 .attr("x1",x(0)).attr("x2",x(92)).attr("y1",d=>y(d)).attr("y2",d=>y(d))
 .attr("stroke",gridCol).attr("stroke-width",d=>d===100?2:1.4);
svg.append("g").selectAll("line").data(monthStarts.slice(1)).join("line")
 .attr("x1",d=>x(d)).attr("x2",d=>x(d)).attr("y1",y(100)).attr("y2",y(0))
 .attr("stroke",d=>d===92?"#e6e6e6":gridCol).attr("stroke-width",d=>d===92?2:1.4);

// marks
const dots=(pts,fill)=>svg.append("g").selectAll("circle").data(pts).join("circle")
 .attr("cx",d=>x(d[0])).attr("cy",d=>y(d[1])).attr("r",6.5).attr("fill",fill);
dots(bluePts,"#0366a4");
dots(redPts,"#d2594a");

// y axis
const yAxis=svg.append("g");
yAxis.append("line").attr("x1",x(0)-1).attr("x2",x(0)-1).attr("y1",y(100)).attr("y2",y(0)).attr("stroke",axisCol).attr("stroke-width",1.6);
yAxis.selectAll(".mn").data(d3.range(0,101)).join("line").attr("class","mn")
 .attr("x1",x(0)-1).attr("x2",d=>x(0)-(d%10===0?5:3)).attr("y1",d=>y(d)).attr("y2",d=>y(d)).attr("stroke","#a8a8a8").attr("stroke-width",0.8);
yAxis.selectAll("text").data(yTickLabels).join("text").attr("x",66).attr("y",d=>y(d)+6).attr("text-anchor","end")
 .attr("font-size",16.5).attr("fill",txt).text(d=>d);
svg.append("text").attr("transform",`translate(26,${346}) rotate(-90)`).attr("text-anchor","middle")
 .attr("font-size",21.5).attr("fill","#a2a2a2").text(yTitle);

// x axis
const xAxis=svg.append("g");
xAxis.append("line").attr("x1",x(0)).attr("x2",x(92)).attr("y1",y(0)).attr("y2",y(0)).attr("stroke","#a0a0a0").attr("stroke-width",1.6);
xAxis.selectAll(".t").data(d3.range(0,93)).join("line").attr("class","t")
 .attr("x1",d=>x(d)).attr("x2",d=>x(d)).attr("y1",y(0)).attr("y2",y(0)+5).attr("stroke","#a0a0a0").attr("stroke-width",0.8);
xAxis.selectAll(".m").data(monthStarts).join("line").attr("class","m")
 .attr("x1",d=>x(d)).attr("x2",d=>x(d)).attr("y1",y(0)).attr("y2",711).attr("stroke","#a8a8a8").attr("stroke-width",1.4);
monthStarts.slice(0,3).forEach((s,i)=>{
 xAxis.append("g").selectAll("text").data(dayLabels).join("text")
  .attr("x",d=>x(s+(+d)-1)).attr("y",705).attr("text-anchor","middle").attr("font-size",16.5).attr("fill",txt).text(d=>d);
 xAxis.append("text").attr("x",x((s+monthStarts[i+1])/2)).attr("y",729).attr("text-anchor","middle").attr("font-size",18.5).attr("fill",txt).text(monthNames[i]);
});
xAxis.append("text").attr("x",x(0)).attr("y",729).attr("text-anchor","end").attr("font-size",18.5).attr("fill",txt).text(prevMonth);
xAxis.append("text").attr("x",x(46)).attr("y",752).attr("text-anchor","middle").attr("font-size",18.5).attr("fill",txt).text(yearLabel);

// partly cut-off logo at the bottom edge
svg.append("g").selectAll("circle").data([103,145,186]).join("circle")
 .attr("cx",d=>d).attr("cy",775).attr("r",22).attr("fill","#c6c6c6");
</script></body></html>
